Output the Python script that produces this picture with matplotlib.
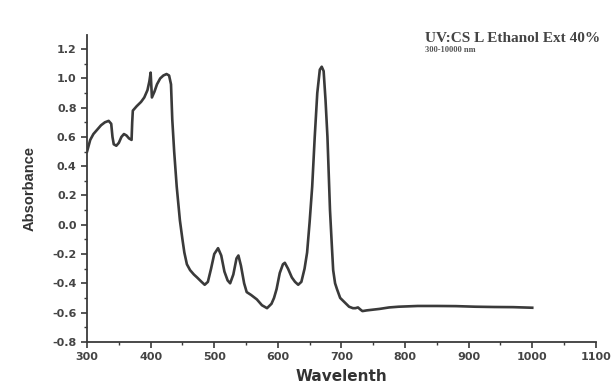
import matplotlib
matplotlib.use("Agg")
import matplotlib.pyplot as plt

wavelength = [300, 305, 310, 316, 322, 328, 334, 338, 340, 342, 346, 350, 354, 358,
              362, 366, 370, 371, 372, 378, 385, 390, 395, 398, 400, 402, 406, 410,
              415, 420, 425, 429, 432, 434, 437, 441, 446, 450, 453, 457, 462, 468,
              473, 480, 485, 490, 495, 500, 506, 511, 516, 521, 525, 530, 535, 538,
              542, 547, 551, 558, 567, 575, 583, 590, 594, 598, 603, 608, 611, 616,
              622, 627, 632, 637, 642, 646, 650, 654, 658, 662, 666, 669, 672, 675,
              678, 682, 685, 687, 690, 693, 698, 705, 712, 718, 722, 726, 730, 733,
              740, 750, 760, 775, 790, 820, 850, 880, 910, 940, 970, 1000]
absorbance = [0.50, 0.58, 0.62, 0.65, 0.68, 0.70, 0.71, 0.69, 0.60, 0.55, 0.54, 0.56, 0.60, 0.62,
              0.61, 0.59, 0.58, 0.70, 0.78, 0.81, 0.84, 0.87, 0.92, 0.98, 1.04, 0.87, 0.91, 0.96,
              1.00, 1.02, 1.03, 1.02, 0.96, 0.72, 0.50, 0.26, 0.03, -0.10, -0.19, -0.27, -0.31, -0.34,
              -0.36, -0.39, -0.41, -0.39, -0.30, -0.20, -0.16, -0.21, -0.32, -0.38, -0.40, -0.34, -0.23, -0.21,
              -0.28, -0.40, -0.46, -0.48, -0.51, -0.55, -0.57, -0.54, -0.50, -0.44, -0.33, -0.27, -0.26, -0.30,
              -0.36, -0.39, -0.41, -0.39, -0.30, -0.19, 0.02, 0.26, 0.60, 0.90, 1.06, 1.08, 1.05, 0.85,
              0.60, 0.10, -0.15, -0.31, -0.40, -0.44, -0.50, -0.53, -0.56, -0.57, -0.57, -0.565, -0.58, -0.59,
              -0.585, -0.58, -0.575, -0.565, -0.56, -0.555, -0.555, -0.556, -0.56, -0.562, -0.563, -0.567]

x_ticks = [300, 400, 500, 600, 700, 800, 900, 1000, 1100]
y_ticks = [-0.8, -0.6, -0.4, -0.2, 0.0, 0.2, 0.4, 0.6, 0.8, 1.0, 1.2]

gris = "#3a3a3a"

fig = plt.figure(figsize=(6.13, 3.88), dpi=100)
ax = fig.add_axes([0.142, 0.119, 0.830, 0.792])

ax.plot(wavelength, absorbance, color=gris, linewidth=1.9)

ax.set_xlim(300, 1100)
ax.set_ylim(-0.8, 1.3)
ax.set_xticks(x_ticks)
ax.set_yticks(y_ticks)
ax.set_yticklabels([f"{v:.1f}" for v in y_ticks])
ax.set_xticks(range(350, 1100, 100), minor=True)
ax.set_yticks([v / 10 for v in range(-7, 13, 2)], minor=True)

for s in ["top", "right"]:
    ax.spines[s].set_visible(False)
for s in ["left", "bottom"]:
    ax.spines[s].set_color(gris)
    ax.spines[s].set_linewidth(1.3)

ax.tick_params(which="major", direction="out", length=4, width=1.2, color=gris,
               labelsize=8, labelcolor="#444444")
ax.tick_params(which="minor", direction="out", length=2.5, width=1.0, color=gris)
for lab in ax.get_xticklabels() + ax.get_yticklabels():
    lab.set_fontweight("bold")

ax.set_xlabel("Wavelenth", fontsize=11, fontweight="bold", color="#333333", labelpad=5)
ax.set_ylabel("Absorbance", fontsize=10.5, fontweight="bold", color="#333333", labelpad=11,
              family="Liberation Sans")

fig.text(0.693, 0.893, "UV:CS L Ethanol Ext 40%", fontsize=11, fontweight="bold",
         family="Liberation Serif", color="#444444")
fig.text(0.693, 0.866, "300-10000 nm", fontsize=6, fontweight="bold",
         family="Liberation Serif", color="#555555")

fig.savefig("out.png", dpi=100)
